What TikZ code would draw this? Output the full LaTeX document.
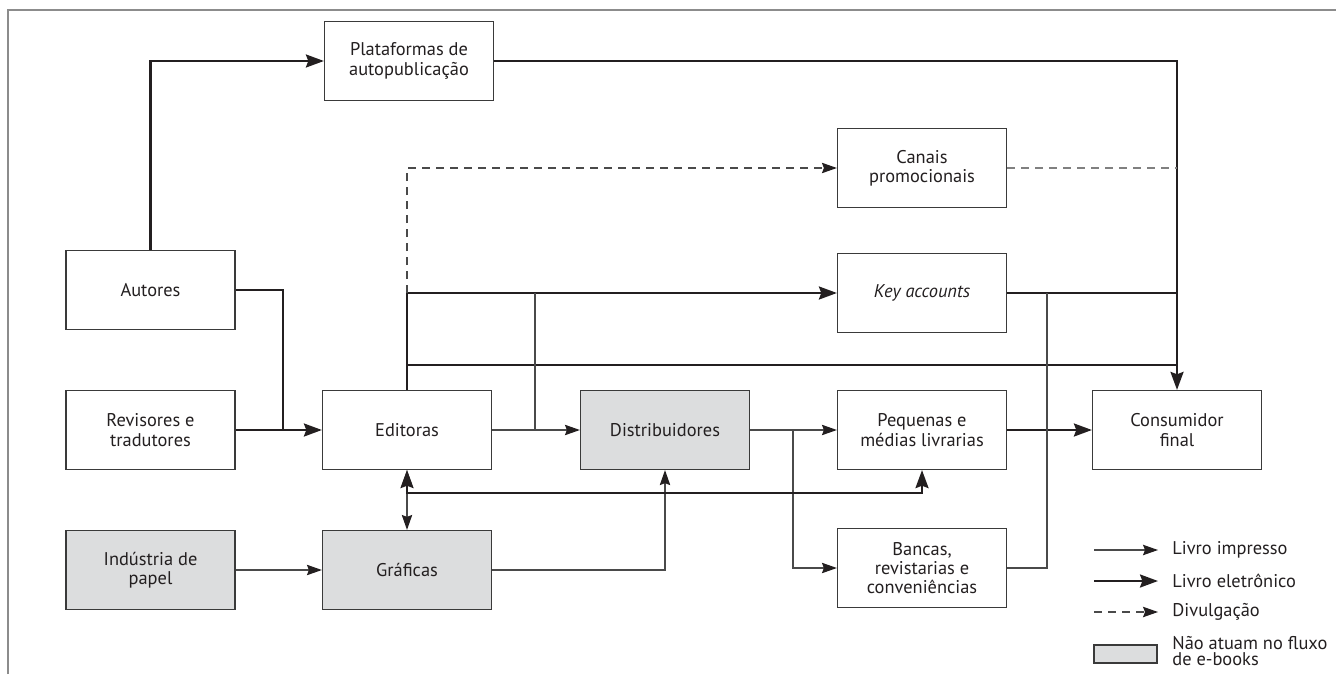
\documentclass[tikz,border=0pt]{standalone}
\usepackage{fontspec}
\setmainfont{PT Sans}
\usetikzlibrary{arrows.meta}
\definecolor{boxline}{HTML}{3A3A3A}
\definecolor{ink}{HTML}{231F20}
\definecolor{thinline}{HTML}{4A4A4A}
\definecolor{fillgray}{HTML}{DCDDDE}
\definecolor{framegray}{HTML}{8C8C8C}
\tikzset{
  box/.style={draw=boxline, line width=0.6pt, minimum width=84.5pt, minimum height=39.5pt,
    align=center, inner sep=1pt, font=\fontsize{9.2}{9.6}\selectfont, text=ink},
  graybox/.style={box, fill=fillgray},
  thintip/.tip={Stealth[length=7.5pt,width=5.2pt,inset=1pt,color=ink]},
  thicktip/.tip={Stealth[length=9pt,width=6.5pt,inset=1.2pt,color=ink]},
  print/.style={draw=thinline, line width=0.6pt, -thintip},
  printline/.style={draw=thinline, line width=0.6pt},
  ebook/.style={draw=ink, line width=1.2pt, -thicktip},
  ebookline/.style={draw=ink, line width=1.2pt},
  promo/.style={draw=thinline, line width=0.6pt, dash pattern=on 4pt off 3pt, -thintip},
  promoline/.style={draw=gray, line width=0.6pt, dash pattern=on 4pt off 3pt},
  legtext/.style={anchor=west, align=left, inner sep=0pt, font=\fontsize{9.2}{8}\selectfont, text=ink},
}
\begin{document}
\begin{tikzpicture}[x=0.5pt,y=-0.5pt]
\useasboundingbox (0,0) rectangle (1336,674);
% frame
\draw[framegray, line width=1pt] (8,674) -- (8,10) -- (1336,10);
% nodes
\node[box] (plat) at (409,61) {Plataformas de\\autopublicação};
\node[box] (aut) at (150.5,290) {Autores};
\node[box] (rev) at (150.5,430) {Revisores e\\tradutores};
\node[graybox] (ind) at (150.5,570) {Indústria de\\papel};
\node[box] (edi) at (407,430) {Editoras};
\node[graybox] (gra) at (407,570) {Gráficas};
\node[graybox] (dist) at (665,430) {Distribuidores};
\node[box] (can) at (922,168) {Canais\\promocionais};
\node[box] (key) at (922,293) {\itshape Key accounts};
\node[box] (peq) at (922,430) {Pequenas e\\médias livrarias};
\node[box] (ban) at (922,568) {Bancas,\\revistarias e\\conveniências};
\node[box] (cons) at (1177,430) {Consumidor\\final};
% junction coordinates
\coordinate (j1) at (283,430);
\coordinate (ked) at (407,293);
\coordinate (c365) at (1177,365);
\coordinate (b1) at (535,430);
\coordinate (b2) at (793,430);
\coordinate (b3) at (1047,293);
\coordinate (b4) at (407,493);
% e-book flows
\draw[ebook] (aut.north) |- (plat.west);
\draw[ebook] (plat.east) -| (cons.north);
\draw[ebookline] (aut.east) -| (j1);
\draw[ebook] (rev.east) -- (edi.west);
\draw[ebook] (edi.north) |- (key.west);
\draw[ebookline] (edi.north) |- (c365);
\draw[ebookline] (key.east) -- (key.east -| cons.north);
\draw[ebook] (peq.east) -- (cons.west);
% print flows
\draw[print] (edi.east) -- (dist.west);
\draw[printline] (b1) -- (b1 |- key.west);
\draw[print] (dist.east) -- (peq.west);
\draw[print] (b2) |- (ban.west);
\draw[printline] (ban.east) -| (b3);
\draw[print] (ind.east) -- (gra.west);
\draw[print] (gra.east) -| (dist.south);
\draw[printline, thintip-thintip] (edi.south) -- (gra.north);
\draw[ebookline, thicktip-thicktip] (edi.south) -- (b4) -| (peq.south);
% promotion
\draw[promo] (ked) |- (can.west);
\draw[promoline] (can.east) -- (can.east -| cons.north);
% legend
\coordinate (l1a) at (1094,550); \coordinate (l1b) at (1158,550);
\coordinate (l2a) at (1094,581); \coordinate (l2b) at (1158,581);
\coordinate (l3a) at (1094,612); \coordinate (l3b) at (1158,612);
\draw[print] (l1a) -- (l1b);
\draw[ebook] (l2a) -- (l2b);
\draw[promo] (l3a) -- (l3b);
\node[legtext] (t1) at (1172,550) {Livro impresso};
\node[legtext] (t2) at (1172,581) {Livro eletrônico};
\node[legtext] (t3) at (1172,612) {Divulgação};
\node[draw=boxline, line width=0.6pt, fill=fillgray, minimum width=31.5pt, minimum height=9pt, inner sep=0pt] (lg) at (1125.5,654) {};
\node[legtext] (t4) at (1172,651) {Não atuam no fluxo\\de e-books};
\end{tikzpicture}
\end{document}
